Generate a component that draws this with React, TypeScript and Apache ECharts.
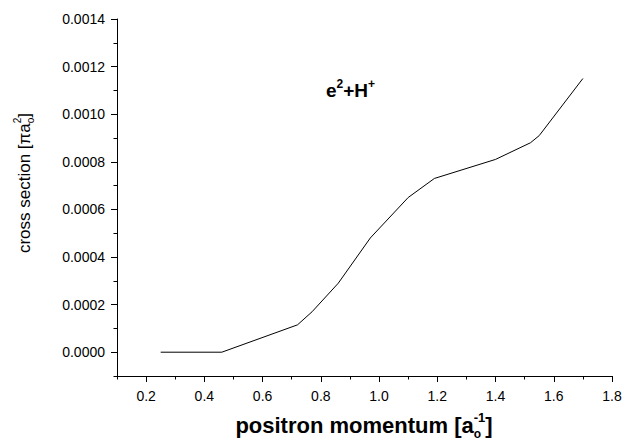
import React, { useEffect, useRef } from "react";
import * as echarts from "echarts";

// ---- data ----
const momentum = [0.25, 0.46, 0.72, 0.77, 0.86, 0.97, 1.1, 1.19, 1.4, 1.52, 1.55, 1.7];
const crossSection = [0, 0, 0.000115, 0.00017, 0.00029, 0.00048, 0.00065, 0.00073, 0.00081, 0.00088, 0.00091, 0.00115];
const xMajorTicks = [0.2, 0.4, 0.6, 0.8, 1.0, 1.2, 1.4, 1.6, 1.8];
const xMinorTicks = [0.1, 0.3, 0.5, 0.7, 0.9, 1.1, 1.3, 1.5, 1.7];
const yMajorTicks = [0, 0.0002, 0.0004, 0.0006, 0.0008, 0.001, 0.0012, 0.0014];
const yMinorTicks = [-0.0001, 0.0001, 0.0003, 0.0005, 0.0007, 0.0009, 0.0011, 0.0013];

const FAMILY = '"Liberation Sans", Arial, sans-serif';

type Frag = { text: string; size: number; weight?: string; rise?: number; keep?: boolean };

let measureCtx: CanvasRenderingContext2D | null = null;
function measure(text: string, size: number, weight: string) {
  if (!measureCtx) measureCtx = document.createElement("canvas").getContext("2d");
  measureCtx!.font = `${weight} ${size}px ${FAMILY}`;
  return measureCtx!.measureText(text).width;
}

function totalWidth(frags: Frag[]) {
  let w = 0;
  let pending = 0;
  for (const f of frags) {
    const fw = measure(f.text, f.size, f.weight || "normal");
    if (f.keep) {
      pending = fw;
    } else {
      w += Math.max(pending, fw);
      pending = 0;
    }
  }
  return w;
}

function layout(frags: Frag[], x0: number, baseline: number) {
  const els: any[] = [];
  let cur = x0;
  let pending = 0;
  for (const f of frags) {
    const weight = f.weight || "normal";
    const fw = measure(f.text, f.size, weight);
    els.push({
      type: "text",
      x: cur,
      y: baseline - (f.rise || 0) - 0.35 * f.size,
      style: {
        text: f.text,
        fontSize: f.size,
        fontWeight: weight,
        fontFamily: FAMILY,
        fill: "#000",
        align: "left",
        verticalAlign: "middle",
      },
    });
    if (f.keep) {
      pending = fw;
    } else {
      cur += Math.max(pending, fw);
      pending = 0;
    }
  }
  return els;
}

export default function App() {
  const ref = useRef<HTMLDivElement>(null);

  useEffect(() => {
    if (!ref.current) return;
    const chart = echarts.init(ref.current, undefined, { renderer: "svg" });

    const titleFrags: Frag[] = [
      { text: "e", size: 19, weight: "bold" },
      { text: "2", size: 12, weight: "bold", rise: 9 },
      { text: "+H", size: 19, weight: "bold" },
      { text: "+", size: 12, weight: "bold", rise: 9 },
    ];
    const xNameFrags: Frag[] = [
      { text: "positron momentum [a", size: 22, weight: "bold" },
      { text: "o", size: 12, weight: "bold", rise: -5, keep: true },
      { text: "-1", size: 13, weight: "bold", rise: 11 },
      { text: "]", size: 22, weight: "bold" },
    ];
    const yNameFrags: Frag[] = [
      { text: "cross section [\u03C0a", size: 17 },
      { text: "o", size: 10, rise: -4, keep: true },
      { text: "2", size: 10, rise: 9 },
      { text: "]", size: 17 },
    ];

    const xw = totalWidth(xNameFrags);
    const yw = totalWidth(yNameFrags);

    const axisLineStyle = { color: "#000", width: 1 };

    chart.setOption({
      animation: false,
      backgroundColor: "#fff",
      grid: { left: 117, right: 26, top: 19, bottom: 65, containLabel: false },
      xAxis: [
        {
          type: "value",
          position: "bottom",
          min: 0.1,
          max: 1.8,
          axisLine: { show: true, onZero: false, lineStyle: axisLineStyle },
          axisTick: { show: true, inside: false, length: 6, lineStyle: axisLineStyle, customValues: xMajorTicks },
          axisLabel: {
            show: true,
            customValues: xMajorTicks,
            margin: 13,
            color: "#000",
            fontSize: 14,
            fontFamily: FAMILY,
            formatter: (v: number) => v.toFixed(1),
          },
          splitLine: { show: false },
        },
        {
          type: "value",
          position: "bottom",
          min: 0.1,
          max: 1.8,
          axisLine: { show: false, onZero: false },
          axisTick: { show: true, inside: false, length: 3.5, lineStyle: axisLineStyle, customValues: xMinorTicks },
          axisLabel: { show: false },
          splitLine: { show: false },
        },
      ],
      yAxis: [
        {
          type: "value",
          position: "left",
          min: -0.0001,
          max: 0.0014,
          axisLine: { show: true, onZero: false, lineStyle: axisLineStyle },
          axisTick: { show: true, inside: false, length: 6, lineStyle: axisLineStyle, customValues: yMajorTicks },
          axisLabel: {
            show: true,
            customValues: yMajorTicks,
            margin: 12,
            color: "#000",
            fontSize: 14,
            fontFamily: FAMILY,
            formatter: (v: number) => v.toFixed(4),
          },
          splitLine: { show: false },
        },
        {
          type: "value",
          position: "left",
          min: -0.0001,
          max: 0.0014,
          axisLine: { show: false, onZero: false },
          axisTick: { show: true, inside: false, length: 3.5, lineStyle: axisLineStyle, customValues: yMinorTicks },
          axisLabel: { show: false },
          splitLine: { show: false },
        },
      ],
      series: [
        {
          type: "line",
          xAxisIndex: 0,
          yAxisIndex: 0,
          data: momentum.map((m, i) => [m, crossSection[i]]),
          showSymbol: false,
          symbol: "none",
          lineStyle: { color: "#000", width: 1 },
          itemStyle: { color: "#000" },
          silent: true,
        },
      ],
      graphic: [
        ...layout(titleFrags, 326, 97),
        ...layout(xNameFrags, 364 - xw / 2, 433),
        {
          type: "group",
          x: 25,
          y: 183,
          rotation: Math.PI / 2,
          children: layout(yNameFrags, -yw / 2, 0.3 * 17),
        },
      ],
    });

    return () => chart.dispose();
  }, []);

  return (
    <div
      ref={ref}
      style={{ position: "fixed", left: 0, top: 0, width: 638, height: 441, background: "#fff" }}
    />
  );
}
